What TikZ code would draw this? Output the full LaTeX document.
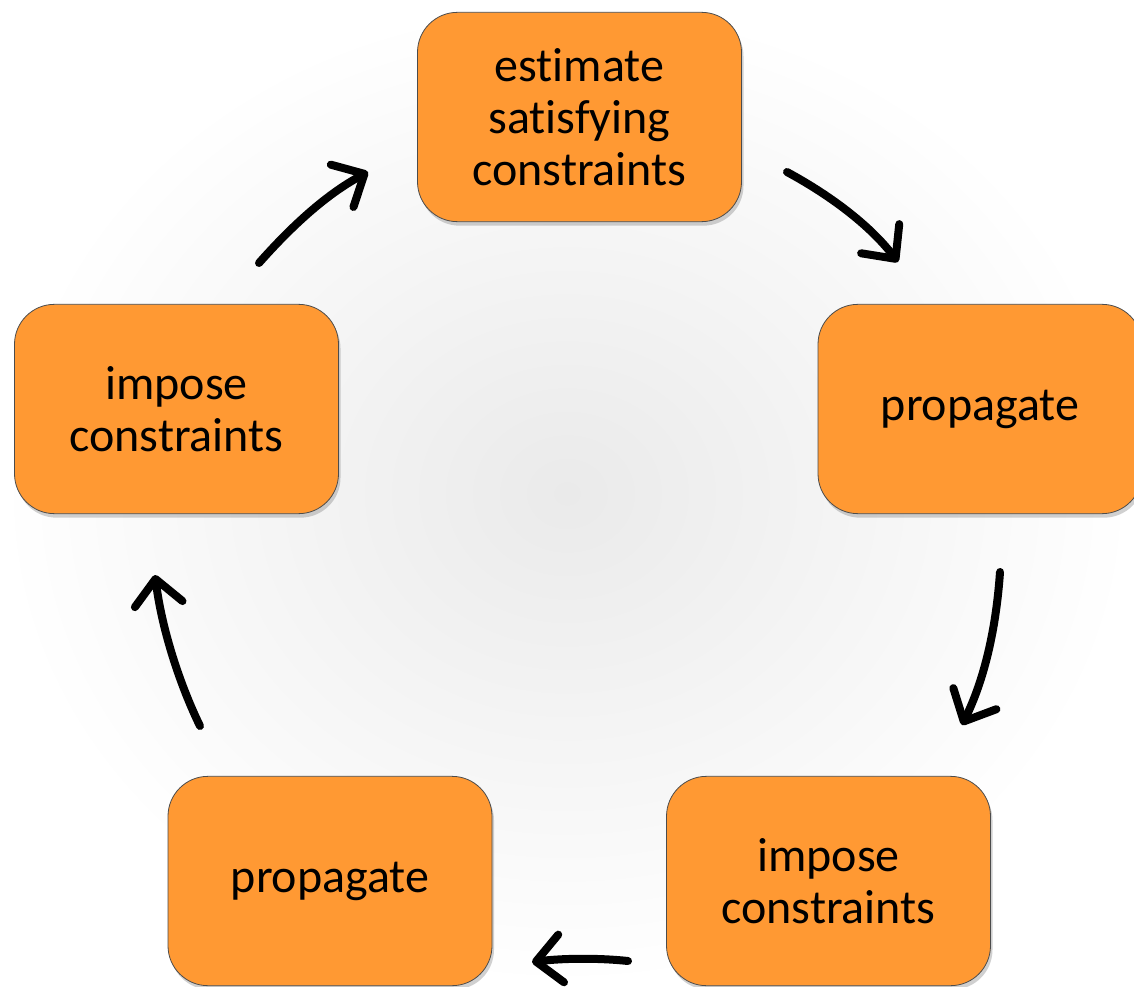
\documentclass[tikz,border=0pt]{standalone}
\usepackage{fontspec}
\setmainfont[Ligatures={NoCommon,NoContextual,NoRare}]{Carlito}
\usetikzlibrary{arrows.meta,shadows,positioning}
\newcommand{\tki}{t\kern0pt i}
\definecolor{boxorange}{RGB}{255,153,51}
\definecolor{bgcenter}{RGB}{234,234,234}
\tikzset{
  stepbox/.style={draw=black!70, line width=0.6pt, fill=boxorange, rounded corners=30pt,
    minimum width=243pt, minimum height=157pt, align=center, font=\fontsize{36}{39}\selectfont,
    inner sep=0pt, drop shadow={shadow xshift=1.5pt, shadow yshift=-3pt, opacity=0.3, fill=black!60}},
  flow/.style={line width=6pt, line cap=round, -{Straight Barb[length=19pt,width=36pt,line width=6pt, round]}}
}
\begin{document}
\begin{tikzpicture}[x=0.75pt,y=-0.75pt]
\useasboundingbox (0,0) rectangle (1134,987);
\shade[inner color=bgcenter, outer color=white] (0,0) rectangle (1134,987);
\begin{scope}
\clip (0,0) rectangle (1134,987);
\node[stepbox] (est) at (579.5,117) {es\tki mate\\sa\tki sfying\\constrain{ts}};
\node[stepbox] (prop1) at (980,409) {propagate};
\node[stepbox] (imp1) at (828.5,881) {impose\\constraints};
\node[stepbox] (prop2) at (330,881) {propagate};
\node[stepbox] (imp2) at (176.5,409) {impose\\constraints};
\end{scope}
\coordinate (a1s) at (787,172);
\coordinate (a1e) at (898,262);
\coordinate (a2s) at (1000,572);
\coordinate (a2e) at (962,725);
\coordinate (a3s) at (628,961);
\coordinate (a3e) at (532,962);
\coordinate (a4s) at (200,726);
\coordinate (a4e) at (155,575);
\coordinate (a5s) at (259,263);
\coordinate (a5e) at (368,172);
\draw[flow] (a1s) .. controls (835,198) and (872,228) .. (a1e);
\draw[flow] (a2s) .. controls (996,630) and (984,680) .. (a2e);
\draw[flow] (a3s) .. controls (600,958) and (565,958) .. (a3e);
\draw[flow] (a4s) .. controls (180,685) and (162,630) .. (a4e);
\draw[flow] (a5s) .. controls (290,228) and (325,195) .. (a5e);
\end{tikzpicture}
\end{document}
